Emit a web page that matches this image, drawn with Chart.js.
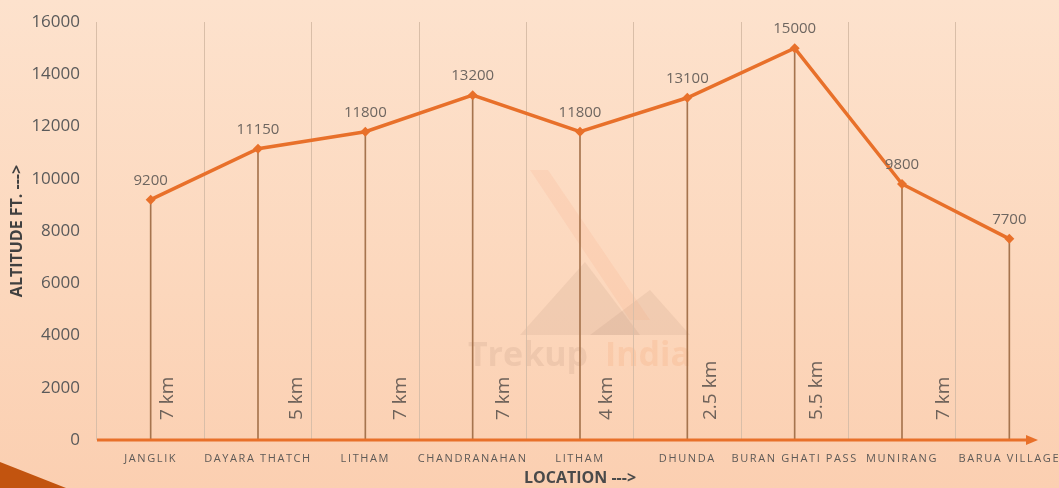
<!DOCTYPE html>
<html>
<head>
<meta charset="utf-8">
<script src="https://cdn.jsdelivr.net/npm/chart.js@4.4.1/dist/chart.umd.min.js"></script>
<style>
  html, body { margin: 0; padding: 0; overflow: hidden; }
  body { width: 1059px; height: 488px; background: linear-gradient(180deg, #fde2cd 0%, #fcd7bc 60%, #fbcfb1 100%); }
  #wrap { width: 1075px; height: 488px; }
</style>
</head>
<body>
<div id="wrap"><canvas id="altChart" width="1075" height="488"></canvas></div>
<script>
var locations = ["JANGLIK", "DAYARA THATCH", "LITHAM", "CHANDRANAHAN", "LITHAM", "DHUNDA", "BURAN GHATI PASS", "MUNIRANG", "BARUA VILLAGE"];
var altitudes = [9200, 11150, 11800, 13200, 11800, 13100, 15000, 9800, 7700];
var distances = ["7 km", "5 km", "7 km", "7 km", "4 km", "2.5 km", "5.5 km", "7 km"];
var yTicks = [0, 2000, 4000, 6000, 8000, 10000, 12000, 14000, 16000];

// where each distance label sits, as a share of a category width past its point
var distShift = [0.16, 0.36, 0.33, 0.29, 0.25, 0.22, 0.2, 0.39];

var orange = "#e8702a";

var extras = {
  id: "extras",
  beforeDraw: function (chart) {
    var ctx = chart.ctx;
    // faint watermark
    ctx.save();
    ctx.fillStyle = "rgba(150, 110, 90, 0.10)";
    ctx.beginPath();
    ctx.moveTo(520, 335); ctx.lineTo(585, 262); ctx.lineTo(640, 335); ctx.closePath();
    ctx.fill();
    ctx.beginPath();
    ctx.moveTo(590, 335); ctx.lineTo(650, 290); ctx.lineTo(690, 335); ctx.closePath();
    ctx.fill();
    ctx.fillStyle = "rgba(240, 120, 60, 0.08)";
    ctx.beginPath();
    ctx.moveTo(530, 170); ctx.lineTo(548, 170); ctx.lineTo(650, 320); ctx.lineTo(630, 320); ctx.closePath();
    ctx.fill();
    ctx.font = "bold 34px 'Open Sans'";
    ctx.textAlign = "center";
    ctx.textBaseline = "middle";
    ctx.fillStyle = "rgba(150, 110, 90, 0.12)";
    ctx.fillText("Trekup", 528, 356);
    ctx.fillStyle = "rgba(240, 120, 60, 0.12)";
    ctx.fillText("India", 648, 356);
    ctx.restore();
  },
  afterDatasetsDraw: function (chart) {
    var ctx = chart.ctx;
    var meta = chart.getDatasetMeta(0);
    ctx.save();
    ctx.font = "15px 'Open Sans'";
    ctx.fillStyle = "#6e6660";
    ctx.textAlign = "center";
    ctx.textBaseline = "middle";
    meta.data.forEach(function (pt, i) {
      ctx.fillText(String(altitudes[i]), pt.x, pt.y - 19);
    });
    ctx.restore();
    // spaced capitals for the location ticks, drawn next
    ctx.letterSpacing = "1.6px";
  },
  afterDraw: function (chart) {
    var ctx = chart.ctx;
    ctx.letterSpacing = "0px";
    var area = chart.chartArea;
    var x = chart.scales.x;
    var y0 = chart.scales.y.getPixelForValue(0);

    // distance labels
    ctx.save();
    ctx.font = "19px 'Open Sans'";
    ctx.fillStyle = "#6e625a";
    ctx.textAlign = "left";
    ctx.textBaseline = "middle";
    var step = x.getPixelForValue(1) - x.getPixelForValue(0);
    distances.forEach(function (d, i) {
      var px = x.getPixelForValue(i) + distShift[i] * step;
      ctx.save();
      ctx.translate(px, y0 - 20);
      ctx.rotate(-Math.PI / 2);
      ctx.fillText(d, 0, 0);
      ctx.restore();
    });
    ctx.restore();

    // axis line with arrow
    ctx.save();
    ctx.strokeStyle = orange;
    ctx.fillStyle = orange;
    ctx.lineWidth = 3;
    ctx.beginPath();
    ctx.moveTo(area.left, y0);
    ctx.lineTo(1028, y0);
    ctx.stroke();
    ctx.beginPath();
    ctx.moveTo(1038, y0);
    ctx.lineTo(1026, y0 - 5);
    ctx.lineTo(1026, y0 + 5);
    ctx.closePath();
    ctx.fill();
    ctx.restore();

    // corner shape
    ctx.save();
    ctx.fillStyle = "#c2540f";
    ctx.beginPath();
    ctx.moveTo(0, 462);
    ctx.lineTo(66, 488);
    ctx.lineTo(0, 488);
    ctx.closePath();
    ctx.fill();
    ctx.restore();
  }
};

new Chart("altChart", {
  type: "line",
  data: {
    labels: locations,
    datasets: [{
      type: "line",
      data: altitudes,
      borderColor: orange,
      backgroundColor: orange,
      borderWidth: 3.5,
      pointStyle: "rectRot",
      pointRadius: 5,
      pointBorderWidth: 0,
      tension: 0,
      order: 0
    },
    {
      type: "bar",
      data: altitudes,
      backgroundColor: "#a6744e",
      barThickness: 1,
      order: 1
    }]
  },
  plugins: [extras],
  options: {
    responsive: false,
    animation: false,
    layout: {
      padding: { top: 22, right: 12, left: 0, bottom: 0 }
    },
    plugins: {
      legend: { display: false },
      tooltip: { enabled: false }
    },
    scales: {
      x: {
        offset: true,
        afterFit: function (s) { s.height = 48; },
        grid: {
          offset: true,
          color: "#d9bea8",
          lineWidth: 1,
          drawTicks: false
        },
        border: { display: false },
        ticks: {
          z: 1,
          padding: 12,
          maxRotation: 0,
          autoSkip: false,
          color: "#5e5a57",
          font: { family: "'Open Sans'", size: 11 }
        },
        title: {
          display: true,
          text: "LOCATION --->",
          color: "#4a4a4a",
          padding: { top: 5, bottom: 0 },
          font: { family: "'Open Sans'", size: 16, weight: "bold" }
        }
      },
      y: {
        min: 0,
        max: 16000,
        afterFit: function (s) {
          s.width = 97;
          s.paddingTop = 0;
          s.paddingBottom = 0;
        },
        afterBuildTicks: function (s) {
          s.ticks = yTicks.map(function (v) { return { value: v }; });
        },
        grid: { display: false, drawTicks: false },
        border: { display: false },
        ticks: {
          padding: 17,
          color: "#5a5a5a",
          font: { family: "'Open Sans'", size: 17 },
          callback: function (v) { return String(v); }
        },
        title: {
          display: true,
          text: "ALTITUDE FT. --->",
          color: "#404040",
          padding: { top: 8, bottom: 0 },
          font: { family: "'Open Sans'", size: 16, weight: "bold" }
        }
      }
    }
  }
});
</script>
</body>
</html>
